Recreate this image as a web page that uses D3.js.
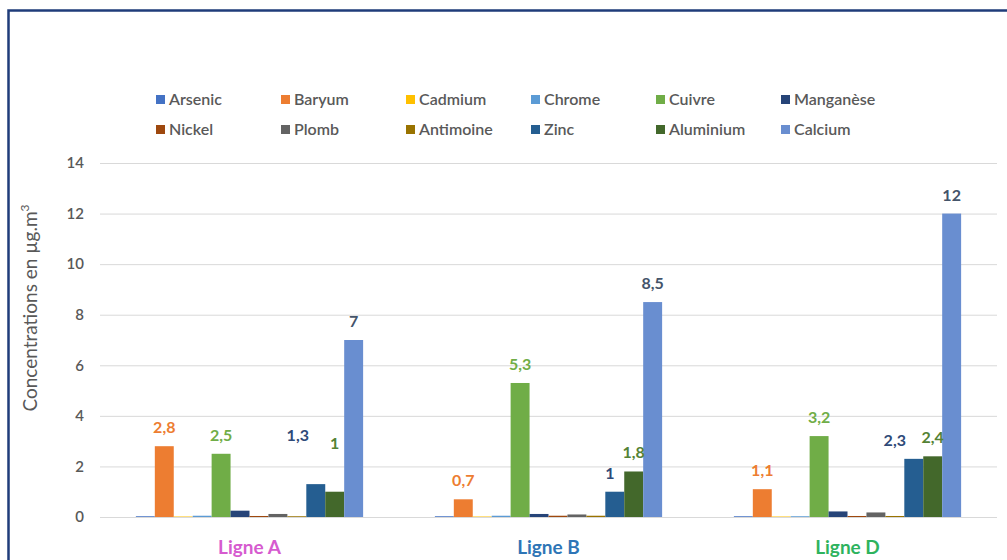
<!DOCTYPE html>
<html>
<head>
<meta charset="utf-8">
<script src="https://cdn.jsdelivr.net/npm/d3@7"></script>
<style>
  html, body { margin: 0; padding: 0; background: #fff; }
  svg { display: block; font-family: Lato, "Open Sans", sans-serif; }
</style>
</head>
<body>
<div id="chart"></div>
<script>
// Data
const categories = ['Ligne A', 'Ligne B', 'Ligne D'];
const elements = ['Arsenic', 'Baryum', 'Cadmium', 'Chrome', 'Cuivre', 'Manganèse',
                  'Nickel', 'Plomb', 'Antimoine', 'Zinc', 'Aluminium', 'Calcium'];
// one array per category, in element order
const ligneA = [0.03, 2.8, 0.02, 0.05, 2.5, 0.25, 0.04, 0.12, 0.03, 1.3, 1.0, 7.0];
const ligneB = [0.03, 0.7, 0.02, 0.05, 5.3, 0.12, 0.05, 0.1, 0.05, 1.0, 1.8, 8.5];
const ligneD = [0.03, 1.1, 0.02, 0.03, 3.2, 0.22, 0.04, 0.18, 0.04, 2.3, 2.4, 12.0];
const labelled = ['Baryum', 'Cuivre', 'Zinc', 'Aluminium', 'Calcium'];
const yTicks = [0, 2, 4, 6, 8, 10, 12, 14];

const colors = ['#4472C4', '#ED7D31', '#FFC000', '#5B9BD5', '#70AD47', '#264478',
                '#9E480E', '#636363', '#997300', '#255E91', '#43682B', '#698ED0'];
const labelColors = { Baryum: '#ED7D31', Cuivre: '#70AD47', Zinc: '#2F4A78',
                      Aluminium: '#548235', Calcium: '#44546A' };
const catColors = ['#D65BCF', '#2E75B6', '#2EB35E'];
// manual label nudges like in the original workbook
const nudges = { 'Ligne A|Zinc': [-18, -30], 'Ligne A|Aluminium': [0, -30],
                 'Ligne B|Zinc': [-5, 0], 'Ligne D|Zinc': [-19, 0] };

const W = 1007, H = 560;
const plot = { left: 100, right: 997, top: 163, bottom: 517 };

const svg = d3.select('#chart').append('svg')
  .attr('width', W).attr('height', H);

// Frame
svg.append('path')
  .attr('d', `M8.5,${H} V10.5 H${W}`)
  .attr('fill', 'none').attr('stroke', '#1F3C7A').attr('stroke-width', 2.5);

const y = d3.scaleLinear().domain([0, 14]).range([plot.bottom, plot.top]);
const x0 = d3.scaleBand().domain(categories).range([plot.left, plot.right])
  .paddingInner(0.24).paddingOuter(0.12);
const x1 = d3.scaleBand().domain(elements).range([0, x0.bandwidth()]);
const color = d3.scaleOrdinal().domain(elements).range(colors);

// Gridlines
svg.append('g')
  .attr('transform', `translate(${plot.left},0)`)
  .call(d3.axisLeft(y).tickValues(yTicks).tickSize(-(plot.right - plot.left)).tickFormat(''))
  .call(g => g.select('.domain').remove())
  .call(g => g.selectAll('line').attr('stroke', '#D9D9D9'));

// Y tick labels
svg.append('g')
  .attr('transform', `translate(${plot.left - 16},0)`)
  .call(d3.axisLeft(y).tickValues(yTicks).tickSize(0).tickPadding(0))
  .call(g => g.select('.domain').remove())
  .call(g => g.selectAll('text')
    .attr('fill', '#595959').attr('font-size', 15).attr('font-weight', 600)
    .attr('font-family', 'Lato, sans-serif'));

// Y title
const yt = svg.append('text')
  .attr('transform', `translate(37,308) rotate(-90)`)
  .attr('text-anchor', 'middle').attr('fill', '#595959').attr('font-size', 19);
yt.append('tspan').text('Concentrations en µg.m');
yt.append('tspan').attr('font-size', 12).attr('dy', -8).text('3');

// Bars
const rows = [ligneA, ligneB, ligneD];
const data = categories.map((c, i) => ({
  cat: c,
  values: elements.map((e, j) => ({ cat: c, key: e, value: rows[i][j] }))
}));

const groups = svg.append('g').selectAll('g').data(data).join('g')
  .attr('transform', d => `translate(${x0(d.cat)},0)`);

groups.selectAll('rect').data(d => d.values).join('rect')
  .attr('x', d => x1(d.key))
  .attr('width', x1.bandwidth())
  .attr('y', d => y(d.value))
  .attr('height', d => y(0) - y(d.value))
  .attr('fill', d => color(d.key));

// Value labels
const fmt = v => d3.format('~g')(v).replace('.', ',');
groups.selectAll('text.val').data(d => d.values.filter(v => labelled.includes(v.key)))
  .join('text').attr('class', 'val')
  .attr('x', d => x1(d.key) + x1.bandwidth() / 2 + (nudges[d.cat + '|' + d.key] || [0, 0])[0])
  .attr('y', d => y(d.value) - 13 + (nudges[d.cat + '|' + d.key] || [0, 0])[1])
  .attr('text-anchor', 'middle')
  .attr('font-size', 16).attr('font-weight', 700)
  .attr('fill', d => labelColors[d.key])
  .text(d => fmt(d.value));

// Category labels
svg.append('g').selectAll('text').data(categories).join('text')
  .attr('x', d => x0(d) + x0.bandwidth() / 2)
  .attr('y', 554)
  .attr('text-anchor', 'middle')
  .attr('font-size', 19).attr('font-weight', 700)
  .attr('fill', (d, i) => catColors[i])
  .text(d => d);

// Legend: 2 rows x 6 columns
const legend = svg.append('g').selectAll('g').data(elements).join('g')
  .attr('transform', (d, i) => `translate(${156 + (i % 6) * 125},${100 + Math.floor(i / 6) * 30})`);
legend.append('rect').attr('x', 0).attr('y', -5).attr('width', 9).attr('height', 9)
  .attr('fill', d => color(d));
legend.append('text').attr('x', 13).attr('y', 5)
  .attr('font-size', 16).attr('fill', '#595959').attr('font-weight', 600)
  .text(d => d);
</script>
</body>
</html>
